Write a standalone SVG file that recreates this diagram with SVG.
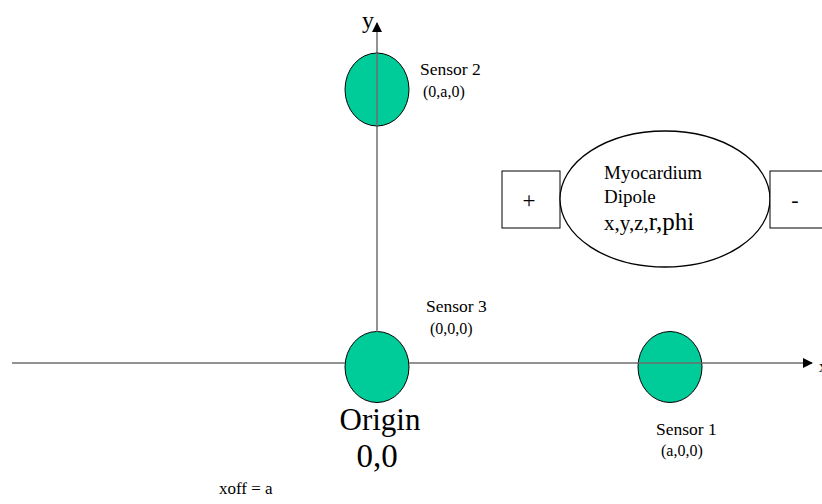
<svg xmlns="http://www.w3.org/2000/svg" width="822" height="504" viewBox="0 0 822 504">
<style>
.t{font-family:"Liberation Serif",serif;fill:#000}
.s{font-size:17.5px}
.c{font-size:16px}
.sensor{fill:#00cc99;stroke:#000;stroke-width:1}
.axis{stroke:#6e6e6e;stroke-width:1.5;fill:none}
.box{fill:#fff;stroke:#000;stroke-width:1}
</style>
<defs>
<marker id="arr" markerWidth="10" markerHeight="10" refX="9" refY="5" orient="auto" markerUnits="userSpaceOnUse">
<path d="M0,0 L10,5 L0,10 Z" fill="#000"/>
</marker>
</defs>
<rect width="822" height="504" fill="#fff"/>
<g id="origin">
<ellipse class="sensor" cx="377" cy="367" rx="32" ry="35.5"/>
</g>
<g id="connectors">
<line class="axis" x1="12" y1="363" x2="345" y2="363"/>
<line class="axis" x1="409" y1="363" x2="812" y2="363" marker-end="url(#arr)"/>
<line class="axis" x1="377" y1="332" x2="377" y2="23" marker-end="url(#arr)"/>
</g>
<g id="sensor1">
<ellipse class="sensor" cx="670" cy="367" rx="32" ry="35.5"/>
<line class="axis" x1="638" y1="363" x2="702" y2="363"/>
<text class="t s" x="656" y="435">Sensor 1</text>
<text class="t c" x="661" y="456">(a,0,0)</text>
</g>
<g id="sensor2">
<ellipse class="sensor" cx="377" cy="89.5" rx="32" ry="36.5"/>
<line class="axis" x1="377" y1="53" x2="377" y2="126"/>
<text class="t s" x="420" y="75">Sensor 2</text>
<text class="t c" x="423" y="97">(0,a,0)</text>
</g>
<g id="sensor3">
<text class="t s" x="426" y="312">Sensor 3</text>
<text class="t c" x="430" y="334">(0,0,0)</text>
</g>
<g id="origin-label">
<text class="t" x="380" y="430" font-size="31" text-anchor="middle">Origin</text>
<text class="t" x="377" y="467" font-size="33" text-anchor="middle">0,0</text>
</g>
<g id="axis-labels">
<text class="t" x="362" y="28" font-size="24">y</text>
<text class="t" x="819" y="372" font-size="16">x</text>
</g>
<g id="plus">
<rect class="box" x="502" y="171" width="58" height="57"/>
<text class="t" x="529" y="208" font-size="23" text-anchor="middle">+</text>
</g>
<g id="dipole">
<ellipse fill="#fff" stroke="#000" stroke-width="1.3" cx="665" cy="199" rx="105" ry="68"/>
<text class="t" x="604" y="179" font-size="19">Myocardium</text>
<text class="t" x="604" y="203" font-size="19">Dipole</text>
<text class="t" x="604" y="230" font-size="21">x,y,z,<tspan font-size="25">r,phi</tspan></text>
</g>
<g id="minus">
<rect class="box" x="770" y="171" width="60" height="57"/>
<text class="t" x="795" y="207" font-size="22" text-anchor="middle">-</text>
</g>
<g id="note">
<text class="t" x="219" y="494" font-size="17">xoff = a</text>
</g>
</svg>
